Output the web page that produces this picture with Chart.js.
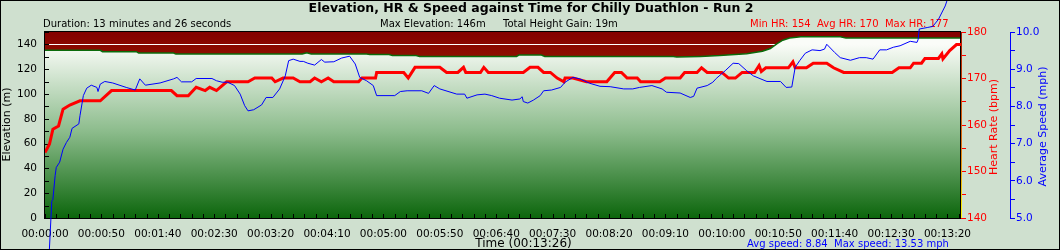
<!DOCTYPE html>
<html>
<head>
<meta charset="utf-8">
<title>Elevation, HR &amp; Speed against Time</title>
<script src="https://cdn.jsdelivr.net/npm/chart.js@4.4.1/dist/chart.umd.min.js"></script>
<style>
  html, body { margin: 0; padding: 0; background: #cfe0cf; }
  #wrap { width: 1060px; height: 250px; }
</style>
</head>
<body>
<div id="wrap"><canvas id="run-chart" width="1060" height="250"></canvas></div>
<script>
// all times are seconds from the start of the run
const timeMax = 812;

const elevTimes = [0, 49, 51, 81, 83, 114, 116, 228, 232, 236, 285, 288, 305, 308, 329, 332, 418, 420, 440, 443, 557, 560, 581, 598, 622, 636, 643, 649, 654, 660, 670, 705, 710, 812];
const elevValues = [135.2, 135.2, 134.1, 134.1, 133.0, 133.0, 132.2, 132.2, 133.3, 132.2, 132.2, 131.9, 131.9, 131.0, 131.0, 130.3, 130.3, 131.4, 131.4, 130.3, 130.3, 129.8, 130.3, 131.0, 132.5, 134.5, 136.7, 140.7, 143.4, 145.1, 146.1, 146.1, 145.1, 145.1];

const hrTimes = [0, 4, 7, 12, 16, 22, 31, 49, 59, 112, 117, 127, 134, 142, 146, 152, 161, 180, 186, 201, 204, 211, 220, 226, 235, 239, 245, 251, 256, 278, 281, 293, 294, 318, 322, 328, 350, 356, 366, 371, 373, 386, 389, 393, 424, 430, 437, 442, 448, 454, 460, 461, 468, 480, 498, 505, 511, 516, 525, 528, 545, 550, 563, 567, 578, 582, 587, 600, 606, 612, 618, 629, 633, 635, 639, 659, 663, 665, 675, 681, 693, 699, 708, 751, 757, 767, 770, 777, 780, 792, 795, 796, 802, 808, 812];
const hrValues = [154.1, 155.9, 159.1, 159.8, 163.4, 164.3, 165.2, 165.2, 167.4, 167.4, 166.3, 166.3, 168.1, 167.4, 168.1, 167.4, 169.3, 169.3, 170.1, 170.1, 169.3, 170.1, 170.1, 169.3, 169.3, 170.1, 169.3, 170.1, 169.3, 169.3, 170.1, 170.1, 171.3, 171.3, 170.1, 172.4, 172.4, 171.3, 171.3, 172.4, 171.3, 171.3, 172.4, 171.3, 171.3, 172.4, 172.4, 171.3, 171.3, 170.1, 169.3, 170.1, 170.1, 169.3, 169.3, 171.3, 171.3, 170.1, 170.1, 169.3, 169.3, 170.1, 170.1, 171.3, 171.3, 172.3, 171.3, 171.3, 170.1, 170.1, 171.3, 171.3, 172.8, 171.5, 172.3, 172.3, 173.6, 172.3, 172.3, 173.3, 173.3, 172.3, 171.3, 171.3, 172.3, 172.3, 173.3, 173.3, 174.3, 174.3, 175.3, 174.2, 176, 177.3, 177.3];

const speedTimes = [2, 6, 7, 9, 10, 13, 16, 19, 22, 24, 30, 31, 34, 37, 41, 46, 47, 49, 53, 60, 72, 80, 84, 89, 102, 114, 117, 121, 130, 134, 148, 152, 157, 162, 168, 173, 177, 180, 185, 192, 196, 202, 208, 213, 216, 220, 226, 229, 233, 239, 245, 248, 256, 263, 270, 275, 279, 285, 291, 294, 310, 315, 321, 334, 340, 345, 350, 365, 372, 374, 383, 390, 396, 403, 414, 421, 423, 424, 428, 433, 439, 442, 449, 457, 461, 468, 474, 483, 492, 501, 513, 521, 527, 538, 547, 551, 563, 572, 575, 578, 587, 592, 595, 603, 610, 615, 622, 628, 640, 652, 657, 662, 665, 669, 674, 680, 687, 691, 693, 700, 705, 714, 722, 728, 734, 740, 746, 752, 758, 767, 773, 774, 775, 782, 787, 792, 798, 800, 812];
const speedValues = [3.0, 5.45, 5.5, 6.14, 6.36, 6.5, 6.85, 7.03, 7.17, 7.41, 7.53, 7.75, 8.29, 8.49, 8.57, 8.51, 8.40, 8.6, 8.67, 8.63, 8.51, 8.44, 8.74, 8.57, 8.63, 8.74, 8.78, 8.66, 8.66, 8.75, 8.75, 8.69, 8.65, 8.65, 8.56, 8.33, 8.02, 7.88, 7.91, 8.04, 8.24, 8.24, 8.47, 8.82, 9.23, 9.27, 9.21, 9.21, 9.16, 9.11, 9.26, 9.19, 9.2, 9.3, 9.35, 9.14, 8.78, 8.69, 8.56, 8.29, 8.29, 8.40, 8.42, 8.42, 8.35, 8.56, 8.47, 8.33, 8.33, 8.22, 8.31, 8.33, 8.29, 8.22, 8.17, 8.2, 8.26, 8.13, 8.09, 8.17, 8.29, 8.42, 8.44, 8.51, 8.65, 8.78, 8.74, 8.62, 8.54, 8.53, 8.47, 8.47, 8.51, 8.56, 8.47, 8.38, 8.36, 8.24, 8.27, 8.49, 8.56, 8.65, 8.75, 8.96, 9.16, 9.15, 8.96, 8.82, 8.67, 8.67, 8.51, 8.52, 9.05, 9.23, 9.43, 9.52, 9.5, 9.54, 9.67, 9.45, 9.31, 9.24, 9.31, 9.31, 9.27, 9.52, 9.52, 9.59, 9.63, 9.75, 9.72, 9.8, 10.08, 10.12, 10.15, 10.34, 10.7, 10.88, 13.53];

const titleText = 'Elevation, HR & Speed against Time for Chilly Duathlon - Run 2';
const durationText = 'Duration: 13 minutes and 26 seconds';
const maxElevText = 'Max Elevation: 146m';
const gainText = 'Total Height Gain: 19m';
const hrSummary = 'Min HR: 154  Avg HR: 170  Max HR: 177';
const speedSummary = 'Avg speed: 8.84  Max speed: 13.53 mph';
const timeTitle = 'Time (00:13:26)';

const FONT = "'DejaVu Sans', sans-serif";
const tickFont = { family: FONT, size: 10.5 };

function fmtTime(sec) {
  const m = Math.floor(sec / 60);
  const s = Math.round(sec % 60);
  return '00:' + String(m).padStart(2, '0') + ':' + String(s).padStart(2, '0');
}

function toPoints(xs, ys) {
  return xs.map((t, i) => ({ x: t, y: ys[i] }));
}

function elevFill(context) {
  const chart = context.chart;
  const a = chart.chartArea;
  if (!a || !chart.scales.yElev) return '#8cbc8c';
  const top = chart.scales.yElev.getPixelForValue(140);
  const g = chart.ctx.createLinearGradient(0, top, 0, a.bottom);
  g.addColorStop(0, '#fafcf8');
  g.addColorStop(0.5, '#8cbc8c');
  g.addColorStop(1, '#0c660c');
  return g;
}

function rotatedText(ctx, text, x, y, color) {
  ctx.save();
  ctx.translate(x, y);
  ctx.rotate(-Math.PI / 2);
  ctx.fillStyle = color;
  ctx.textAlign = 'center';
  ctx.textBaseline = 'alphabetic';
  ctx.fillText(text, 0, 0);
  ctx.restore();
}

const decor = {
  id: 'decor',
  beforeDraw(chart) {
    const { ctx, chartArea: a } = chart;
    ctx.save();
    ctx.fillStyle = '#cfe0cf';
    ctx.fillRect(0, 0, chart.width, chart.height);
    const g = ctx.createLinearGradient(0, a.top, 0, a.bottom);
    g.addColorStop(0, '#840000');
    g.addColorStop(1, '#d07000');
    ctx.fillStyle = g;
    ctx.fillRect(a.left, a.top, a.right - a.left, a.bottom - a.top);
    ctx.restore();
  },
  beforeDatasetsDraw(chart) {
    const ctx = chart.ctx;
    ctx.save();
    ctx.textBaseline = 'alphabetic';
    ctx.fillStyle = '#000';
    ctx.font = 'bold 12.5px ' + FONT;
    ctx.textAlign = 'center';
    ctx.fillText(titleText, 531, 11.5);

    ctx.font = '10px ' + FONT;
    ctx.textAlign = 'left';
    ctx.fillText(durationText, 43, 26.5);
    ctx.fillText(maxElevText, 380, 26.5);
    ctx.fillText(gainText, 503, 26.5);
    ctx.fillStyle = '#ff0000';
    ctx.fillText(hrSummary, 750, 26.5);
    ctx.fillStyle = '#0000ff';
    ctx.fillText(speedSummary, 747, 246.5);

    ctx.fillStyle = '#000';
    ctx.font = '12px ' + FONT;
    ctx.textAlign = 'center';
    ctx.fillText(timeTitle, 523.5, 246.5);

    ctx.font = '11px ' + FONT;
    rotatedText(ctx, 'Elevation (m)', 10, 124.5, '#000');
    rotatedText(ctx, 'Heart Rate (bpm)', 996.5, 127, '#ff0000');
    rotatedText(ctx, 'Average Speed (mph)', 1046, 126.5, '#0000ff');
    ctx.restore();
  },
  afterDatasetDraw(chart, args) {
    if (args.index !== 0) return;
    const { ctx, chartArea: a } = chart;
    const xs = chart.scales.x;
    const ys = chart.scales.yElev;
    ctx.save();
    ctx.strokeStyle = '#000';
    ctx.lineWidth = 1;
    ctx.beginPath();
    xs.ticks.forEach(t => {
      const px = Math.round(xs.getPixelForValue(t.value)) + 0.5;
      ctx.moveTo(px, a.bottom);
      ctx.lineTo(px, a.bottom - 4);
    });
    ys.ticks.forEach(t => {
      const py = Math.round(ys.getPixelForValue(t.value)) + 0.5;
      ctx.moveTo(a.left, py);
      ctx.lineTo(a.left + 4, py);
    });
    ctx.stroke();
    ctx.strokeRect(a.left - 0.5, a.top - 0.5, a.right - a.left, a.bottom - a.top + 1);

    const hg = ctx.createLinearGradient(0, a.top, 0, a.bottom);
    hg.addColorStop(0, '#b01800');
    hg.addColorStop(0.6, '#e07010');
    hg.addColorStop(1, '#ffff00');
    ctx.strokeStyle = hg;
    ctx.beginPath();
    ctx.moveTo(a.right + 0.5, a.top);
    ctx.lineTo(a.right + 0.5, a.bottom);
    ctx.stroke();
    ctx.restore();
  },
  afterDraw(chart) {
    const ctx = chart.ctx;
    ctx.save();
    ctx.strokeStyle = '#000';
    ctx.lineWidth = 1;
    ctx.strokeRect(0.5, 0.5, chart.width - 1, chart.height - 1);
    ctx.restore();
  }
};

new Chart(document.getElementById('run-chart'), {
  type: 'line',
  data: {
    datasets: [
      {
        label: 'Elevation',
        data: toPoints(elevTimes, elevValues),
        yAxisID: 'yElev',
        order: 3,
        borderColor: '#0b6b0b',
        borderWidth: 1.5,
        backgroundColor: elevFill,
        fill: 'start',
        pointRadius: 0,
        tension: 0
      },
      {
        label: 'Heart Rate',
        data: toPoints(hrTimes, hrValues),
        yAxisID: 'yHr',
        order: 2,
        borderColor: '#ff0000',
        borderWidth: 3,
        fill: false,
        pointRadius: 0,
        tension: 0
      },
      {
        label: 'Average Speed',
        data: toPoints(speedTimes, speedValues),
        yAxisID: 'ySpeed',
        order: 1,
        borderColor: '#0000ff',
        borderWidth: 1,
        fill: false,
        pointRadius: 0,
        tension: 0,
        clip: false
      }
    ]
  },
  options: {
    responsive: false,
    animation: false,
    devicePixelRatio: 1,
    events: [],
    layout: { padding: { top: 32, left: 0, right: 0, bottom: 0 } },
    plugins: { legend: { display: false }, tooltip: { enabled: false } },
    scales: {
      x: {
        type: 'linear',
        min: 0,
        max: timeMax,
        border: { display: false },
        grid: { display: false },
        ticks: {
          stepSize: 10, autoSkip: false, maxRotation: 0, minRotation: 0,
          includeBounds: false, padding: 2, color: '#000', font: tickFont,
          callback: v => (v % 50 === 0 ? fmtTime(v) : '')
        },
        afterFit: s => { s.height = 32; }
      },
      yElev: {
        position: 'left',
        min: 0,
        max: 150,
        border: { display: false },
        grid: {
          drawTicks: false,
          lineWidth: 1,
          color: c => (c.tick && c.tick.value === 140 ? '#ffffff' : 'rgba(0,0,0,0)')
        },
        ticks: {
          stepSize: 10, autoSkip: false, padding: 8, color: '#000', font: tickFont,
          callback: v => (v % 20 === 0 ? v : '')
        },
        afterFit: s => { s.width = 45; }
      },
      yHr: {
        position: 'right',
        weight: 1,
        min: 140,
        max: 180,
        border: { display: false },
        grid: { drawOnChartArea: false, color: '#ff0000', tickLength: 5 },
        ticks: {
          stepSize: 5, autoSkip: false, padding: 1, color: '#ff0000', font: tickFont,
          callback: v => (v % 10 === 0 ? v : '')
        },
        afterFit: s => { s.width = 49; }
      },
      ySpeed: {
        position: 'right',
        weight: 2,
        min: 5,
        max: 10,
        border: { display: true, color: '#0000ff', width: 1 },
        grid: { drawOnChartArea: false, color: '#0000ff', tickLength: 5 },
        ticks: {
          stepSize: 0.5, autoSkip: false, padding: 1, color: '#0000ff', font: tickFont,
          callback: v => (Number.isInteger(v) ? v.toFixed(1) : '')
        },
        afterFit: s => { s.width = 50; }
      }
    }
  },
  plugins: [decor]
});
</script>
</body>
</html>
